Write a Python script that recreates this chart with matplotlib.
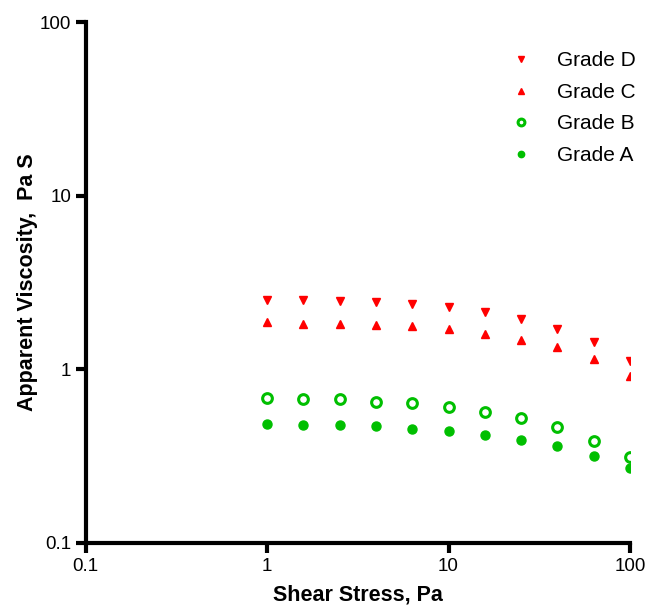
import numpy as np
import matplotlib
matplotlib.use('Agg')
import matplotlib.pyplot as plt

plt.rcParams['font.family'] = ['Liberation Sans', 'DejaVu Sans']

# shear stress, Pa (5 points per decade)
stress = [1.0, 1.585, 2.512, 3.981, 6.310, 10.0, 15.85, 25.12, 39.81, 63.10, 100.0]
# apparent viscosity, Pa S
grade_d = [2.52, 2.50, 2.48, 2.44, 2.39, 2.28, 2.15, 1.96, 1.71, 1.44, 1.11]
grade_c = [1.88, 1.83, 1.83, 1.80, 1.77, 1.70, 1.60, 1.48, 1.34, 1.14, 0.91]
grade_b = [0.684, 0.679, 0.672, 0.652, 0.640, 0.610, 0.571, 0.525, 0.464, 0.387, 0.311]
grade_a = [0.485, 0.481, 0.477, 0.469, 0.452, 0.440, 0.419, 0.394, 0.361, 0.318, 0.269]

red = '#ff0000'
green = '#00bf00'

fig = plt.figure(figsize=(6.5, 6.05), dpi=100)
ax = fig.add_axes([0.132, 0.1025, 0.837, 0.861])

ax.plot(stress, grade_d, linestyle='none', marker='v', ms=6, color=red, label='Grade D')
ax.plot(stress, grade_c, linestyle='none', marker='^', ms=6, color=red, label='Grade C')
ax.plot(stress, grade_b, linestyle='none', marker='o', ms=7, mfc='white', mec=green, mew=2.2, label='Grade B')
ax.plot(stress, grade_a, linestyle='none', marker='o', ms=6.5, color=green, label='Grade A')

ax.set_xscale('log')
ax.set_yscale('log')
ax.set_xlim(0.1, 100)
ax.set_ylim(0.1, 100)
ax.set_xticks([0.1, 1, 10, 100])
ax.set_xticklabels(['0.1', '1', '10', '100'])
ax.set_yticks([0.1, 1, 10, 100])
ax.set_yticklabels(['0.1', '1', '10', '100'])
ax.minorticks_off()

for s in ['top', 'right']:
    ax.spines[s].set_visible(False)
for s in ['left', 'bottom']:
    ax.spines[s].set_linewidth(3)
ax.tick_params(width=3, length=7, labelsize=13.5, direction='out')

ax.set_xlabel('Shear Stress, Pa', fontsize=15.5, fontweight='bold')
ax.set_ylabel('Apparent Viscosity,  Pa S', fontsize=15.5, fontweight='bold')
ax.xaxis.set_label_coords(0.5, -0.079)
ax.yaxis.set_label_coords(-0.088, 0.5)

ax.legend(loc='upper left', bbox_to_anchor=(492 / 650, 1 - 43 / 605), bbox_transform=fig.transFigure,
          frameon=False, fontsize=15, markerscale=0.7, handletextpad=0.73, labelspacing=0.6,
          borderaxespad=0)

plt.savefig('out.png')
plt.close()
